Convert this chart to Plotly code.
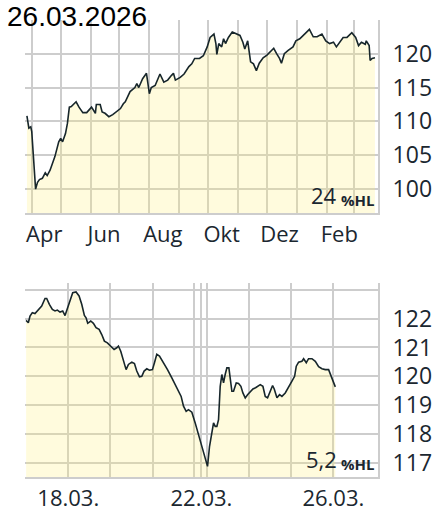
import plotly.graph_objects as go

# ---------------- data ----------------
title_date = "26.03.2026"

year_dates = [
    "2025-03-27", "2025-03-29", "2025-03-31", "2025-04-01", "2025-04-05", "2025-04-07",
    "2025-04-09", "2025-04-12", "2025-04-15", "2025-04-17", "2025-04-20", "2025-04-25",
    "2025-04-29", "2025-05-01", "2025-05-03", "2025-05-06", "2025-05-08", "2025-05-10",
    "2025-05-12", "2025-05-17", "2025-05-20", "2025-05-24", "2025-05-28", "2025-06-02",
    "2025-06-06", "2025-06-07", "2025-06-11", "2025-06-13", "2025-06-16", "2025-06-20",
    "2025-06-24", "2025-06-28", "2025-07-02", "2025-07-05", "2025-07-07", "2025-07-12",
    "2025-07-17", "2025-07-19", "2025-07-21", "2025-07-25", "2025-07-29", "2025-08-01",
    "2025-08-03", "2025-08-07", "2025-08-12", "2025-08-16", "2025-08-20", "2025-08-24",
    "2025-08-26", "2025-08-28", "2025-09-02", "2025-09-06", "2025-09-11", "2025-09-14",
    "2025-09-17", "2025-09-22", "2025-09-26", "2025-09-30", "2025-10-03", "2025-10-07",
    "2025-10-09", "2025-10-10", "2025-10-12", "2025-10-15", "2025-10-17", "2025-10-19",
    "2025-10-22", "2025-10-26", "2025-10-31", "2025-11-03", "2025-11-06", "2025-11-08",
    "2025-11-11", "2025-11-14", "2025-11-17", "2025-11-20", "2025-11-23", "2025-11-27",
    "2025-12-01", "2025-12-05", "2025-12-08", "2025-12-11", "2025-12-14", "2025-12-16",
    "2025-12-19", "2025-12-23", "2025-12-28", "2025-12-31", "2026-01-04", "2026-01-09",
    "2026-01-14", "2026-01-18", "2026-01-22", "2026-01-27", "2026-01-31", "2026-02-04",
    "2026-02-08", "2026-02-11", "2026-02-15", "2026-02-18", "2026-02-22", "2026-02-27",
    "2026-03-03", "2026-03-06", "2026-03-09", "2026-03-13", "2026-03-14", "2026-03-17",
    "2026-03-18", "2026-03-20", "2026-03-23",
]
year_values = [
    110.8, 109.0, 109.2, 108.5, 100.0, 101.0,
    101.4, 101.6, 102.4, 102.0, 102.8, 104.8,
    107.0, 107.5, 107.0, 108.2, 109.7, 112.1,
    112.2, 112.9, 112.1, 111.3, 111.3, 112.1,
    111.2, 112.5, 112.5, 111.4, 111.2, 110.7,
    111.0, 111.4, 111.9, 112.6, 112.9, 114.4,
    115.0, 115.6, 115.0, 116.3, 117.1, 114.1,
    115.0, 115.3, 117.0, 115.8, 116.1, 116.8,
    117.1, 116.1, 116.5, 117.0, 118.1, 118.5,
    119.3, 119.3, 119.7, 121.0, 122.4, 122.9,
    121.5, 119.9, 121.5, 121.0, 122.2, 121.5,
    122.4, 123.2, 122.9, 122.7, 121.7, 120.7,
    121.9, 118.8, 118.5, 117.5, 118.6, 119.4,
    119.8, 120.4, 120.8, 120.0, 119.3, 118.6,
    120.0, 120.5, 121.0, 121.9, 122.2, 122.9,
    123.6, 122.5, 122.5, 122.9, 121.9, 121.5,
    121.7, 121.0, 121.7, 122.4, 122.4, 123.1,
    122.4, 121.2, 121.7, 121.4, 121.9, 121.2,
    119.0, 119.3, 119.4,
]
year_range = ["2025-03-25", "2026-03-26 04:00"]
month_starts = ["2025-04-01", "2025-05-01", "2025-06-01", "2025-07-01", "2025-08-01",
                "2025-09-01", "2025-10-01", "2025-11-01", "2025-12-01", "2026-01-01",
                "2026-02-01", "2026-03-01"]
month_label_dates = ["2025-04-14", "2025-06-15", "2025-08-15", "2025-10-15",
                     "2025-12-14", "2026-02-14"]
month_labels = ["Apr", "Jun", "Aug", "Okt", "Dez", "Feb"]
year_yticks = [100, 105, 110, 115, 120, 125]
year_yticktext = ["100", "105", "110", "115", "120", ""]
year_hl = "24"

# intraday series: x = trading-time position in days since 17.03. 00:00 (weekend compressed)
week_t = [
    0.000, 0.053, 0.093, 0.148, 0.211, 0.291, 0.370, 0.449, 0.489, 0.552,
    0.623, 0.686, 0.742, 0.805, 0.869, 0.924, 0.979, 1.027, 1.106, 1.185,
    1.257, 1.320, 1.383, 1.423, 1.462, 1.534, 1.597, 1.660, 1.732, 1.795,
    1.858, 1.929, 2.017, 2.088, 2.151, 2.191, 2.246, 2.310, 2.373, 2.428,
    2.508, 2.571, 2.626, 2.690, 2.745, 2.800, 2.864, 2.927, 2.998, 3.046,
    3.101, 3.165, 3.260, 3.355, 3.458, 3.537, 3.616, 3.679, 3.735, 3.798,
    3.853, 3.933, 4.012, 4.091, 4.170, 4.249, 4.305, 4.352, 4.408, 4.448,
    4.487, 4.527, 4.566, 4.606, 4.645, 4.685, 4.724, 4.764, 4.812, 4.843,
    4.883, 4.922, 4.986, 5.041, 5.097, 5.144, 5.200, 5.255, 5.318, 5.382,
    5.445, 5.493, 5.556, 5.619, 5.675, 5.730, 5.793, 5.849, 5.888, 5.952,
    6.015, 6.070, 6.149, 6.228, 6.308, 6.371, 6.411, 6.466, 6.545, 6.585,
    6.648, 6.703, 6.783, 6.862, 6.941, 7.020, 7.099, 7.178, 7.234, 7.297,
    7.337,
]
week_values = [
    121.94, 121.86, 122.09, 122.21, 122.18, 122.30, 122.44, 122.70, 122.70, 122.50,
    122.32, 122.27, 122.30, 122.23, 122.27, 122.11, 122.35, 122.61, 122.90, 122.93,
    122.79, 122.50, 122.11, 122.03, 121.84, 121.92, 121.84, 121.69, 121.63, 121.45,
    121.22, 121.16, 121.05, 120.93, 120.99, 121.05, 120.87, 120.58, 120.23, 120.41,
    120.49, 120.44, 120.18, 119.98, 120.00, 120.18, 120.26, 120.21, 120.23, 120.47,
    120.76, 120.70, 120.47, 120.23, 119.94, 119.71, 119.48, 119.30, 118.96, 118.78,
    118.84, 118.75, 118.38, 117.97, 117.56, 117.16, 116.87, 117.56, 118.14, 118.38,
    118.26, 118.26, 118.49, 119.65, 120.06, 119.77, 120.06, 120.29, 120.29, 119.94,
    119.48, 119.48, 119.77, 119.75, 119.65, 119.42, 119.25, 119.36, 119.48, 119.56,
    119.60, 119.65, 119.71, 119.65, 119.30, 119.25, 119.48, 119.68, 119.56, 119.25,
    119.36, 119.30, 119.42, 119.60, 119.83, 120.00, 120.35, 120.49, 120.52, 120.61,
    120.47, 120.61, 120.61, 120.52, 120.33, 120.26, 120.23, 120.23, 120.00, 119.77,
    119.63,
]
week_range = [-0.026, 8.35]
day_ticks = [1.0, 2.0, 3.0, 3.99, 4.16, 4.30, 5.29, 6.29, 7.29]
day_labels = ["18.03.", "", "", "", "22.03.", "", "", "", "26.03."]
week_yticks = [117, 118, 119, 120, 121, 122, 123]
week_yticktext = ["117", "118", "119", "120", "121", "122", ""]
week_hl = "5,2"

# ---------------- style ----------------
W, H = 446, 523
FONT = "Open Sans"
TXT = "#1b2730"
GRID = "#cdcdcd"
LINE = "#17262b"
FILL = "rgba(255,240,120,0.25)"


def px_x(p):
    return p / W


def px_y(p):
    return 1 - p / H


fig = go.Figure()
fig.add_trace(go.Scatter(x=year_dates, y=year_values, mode="lines",
                         line=dict(color=LINE, width=1.6), fill="tozeroy",
                         fillcolor=FILL, xaxis="x", yaxis="y", hoverinfo="skip"))
fig.add_trace(go.Scatter(x=week_t, y=week_values, mode="lines",
                         line=dict(color=LINE, width=1.6), fill="tozeroy",
                         fillcolor=FILL, xaxis="x2", yaxis="y2", hoverinfo="skip"))

xdom = [px_x(25), px_x(378)]
axis_common = dict(linecolor=GRID, linewidth=2, gridcolor=GRID, gridwidth=2,
                   zeroline=False, automargin=False,
                   tickfont=dict(family=FONT, size=22, color=TXT))
yfont = dict(family=FONT, size=23, color=TXT)

fig.update_layout(
    width=W, height=H, margin=dict(l=0, r=0, t=0, b=0, autoexpand=False),
    paper_bgcolor="white", plot_bgcolor="white", showlegend=False,
    xaxis=dict(domain=xdom, type="date", range=year_range, anchor="y",
               tickmode="array", tickvals=month_label_dates, ticktext=month_labels,
               showgrid=False, showline=True, ticks="",
               minor=dict(tickmode="array", tickvals=month_starts, showgrid=True,
                          gridcolor=GRID, gridwidth=2, ticks=""),
               **axis_common),
    yaxis=dict(domain=[px_y(213.3), px_y(19.5)], range=[96.43, 125.05], anchor="x",
               side="right", tickmode="array", tickvals=year_yticks,
               ticktext=year_yticktext, showgrid=True, showline=True, ticks="",
               ticklabelstandoff=8, **{**axis_common, "tickfont": yfont}),
    xaxis2=dict(domain=xdom, range=week_range, anchor="y2",
                tickmode="array", tickvals=day_ticks, ticktext=day_labels,
                showgrid=True, showline=True, ticks="", **axis_common),
    yaxis2=dict(domain=[px_y(477.3), px_y(282.7)], range=[116.49, 123.25], anchor="x2",
                side="right", tickmode="array", tickvals=week_yticks,
                ticktext=week_yticktext, showgrid=True, showline=True, ticks="",
                ticklabelstandoff=8, **{**axis_common, "tickfont": yfont}),
)

annotations = [
    dict(text=title_date, x=px_x(6), y=1.0, xref="paper", yref="paper",
         xanchor="left", yanchor="top", showarrow=False, borderpad=0,
         font=dict(family="Liberation Sans", size=28, color="#000000")),
]
for val, base in ((year_hl, 211), (week_hl, 475)):
    annotations.append(dict(text=val, x=px_x(338), y=px_y(base), xref="paper",
                            yref="paper", xanchor="right", yanchor="bottom",
                            showarrow=False, borderpad=0,
                            font=dict(family=FONT, size=22, color=TXT)))
    annotations.append(dict(text="<b>%HL</b>", x=px_x(340), y=px_y(base), xref="paper",
                            yref="paper", xanchor="left", yanchor="bottom",
                            showarrow=False, borderpad=0,
                            font=dict(family=FONT, size=15, color=TXT)))
fig.update_layout(annotations=annotations)

fig.write_html("out.html", config={"displayModeBar": False},
               post_script="document.body.style.margin='0';document.body.style.overflow='hidden';")
